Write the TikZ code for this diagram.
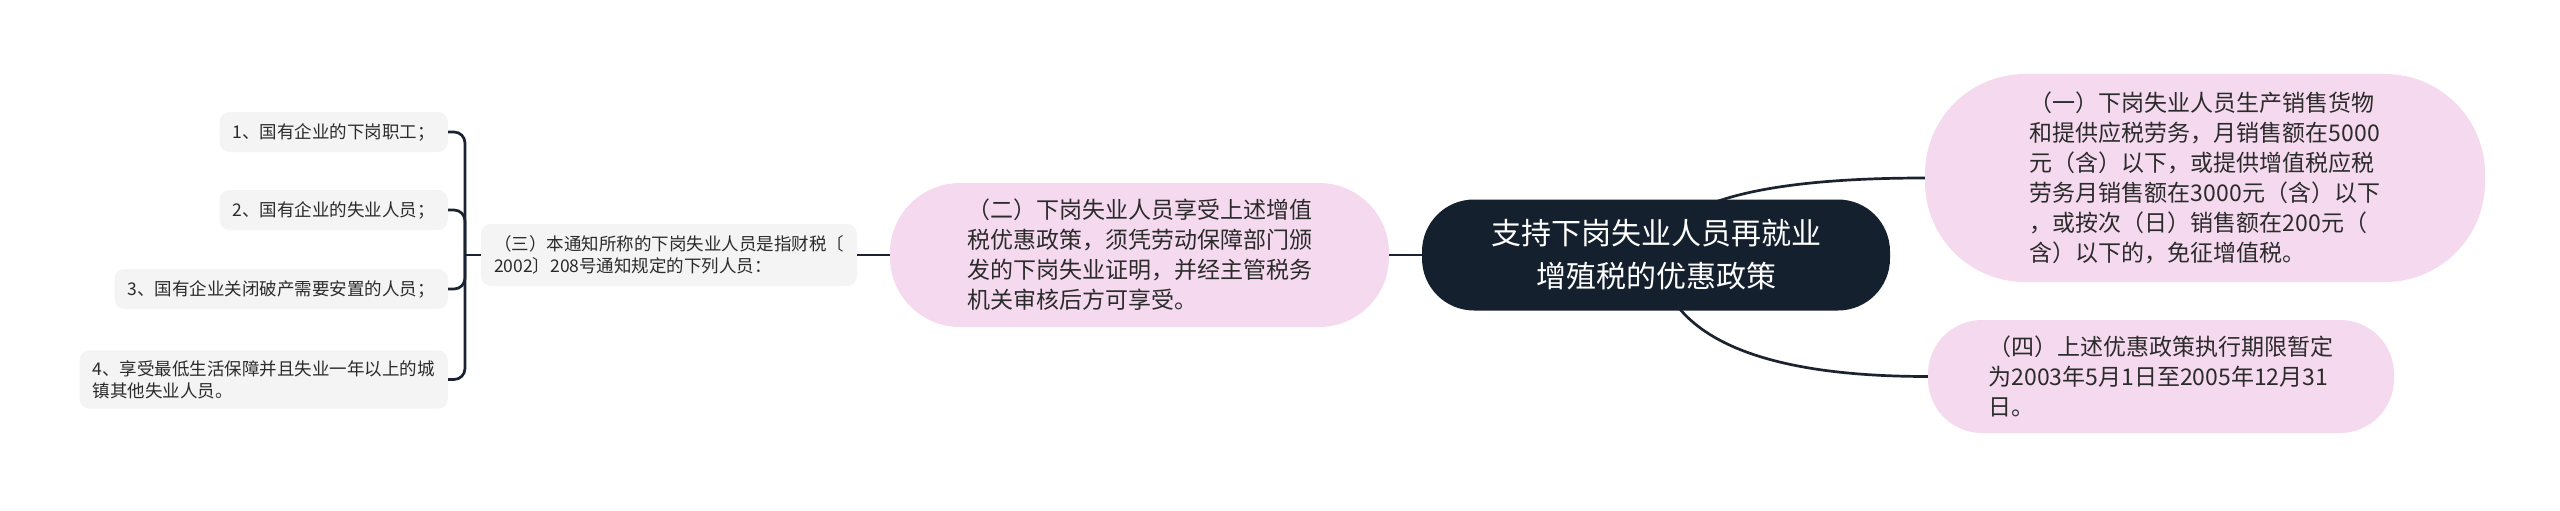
\documentclass[tikz,border=0pt]{standalone}
\usepackage{fontspec}
\newfontfamily\cjk{Noto Sans CJK SC}
\usetikzlibrary{backgrounds}
\definecolor{rootnavy}{HTML}{15202E}
\definecolor{bubblepink}{HTML}{F5DAEF}
\definecolor{leafgrey}{HTML}{F4F4F4}
\definecolor{inkgrey}{HTML}{2B2B2B}
\definecolor{linkdark}{HTML}{1C2330}
\tikzset{
  rootbox/.style={fill=rootnavy, text=white, rounded corners=52pt, minimum width=468pt, minimum height=111pt, align=center, font=\cjk\fontsize{30}{43}\selectfont},
  pinkbox/.style={fill=bubblepink, text=inkgrey, align=left, font=\cjk\fontsize{23}{30}\selectfont},
  greybox/.style={fill=leafgrey, text=inkgrey, rounded corners=10pt, align=left, inner xsep=13pt, inner ysep=10pt, minimum height=40pt, anchor=east, font=\cjk\fontsize{17.5}{22}\selectfont},
  link/.style={draw=linkdark, line width=2.7pt},
}
\begin{document}
\begin{tikzpicture}[x=1pt,y=-1pt]
\useasboundingbox (0,0) rectangle (2560,511);
\node [rootbox] (root) at (1656,255) {支持下岗失业人员再就业\\增殖税的优惠政策};
\node [pinkbox, rounded corners=100pt, minimum width=560pt, minimum height=208pt] (first) at (2205,178)
  {（一）下岗失业人员生产销售货物\\和提供应税劳务，月销售额在5000\\元（含）以下，或提供增值税应税\\劳务月销售额在3000元（含）以下\\，或按次（日）销售额在200元（\\含）以下的，免征增值税。};
\node [pinkbox, rounded corners=54pt, minimum width=466pt, minimum height=113pt] (fourth) at (2161,376.5)
  {（四）上述优惠政策执行期限暂定\\为2003年5月1日至2005年12月31\\日。};
\node [pinkbox, rounded corners=70pt, minimum width=499pt, minimum height=144pt] (second) at (1139.5,255)
  {（二）下岗失业人员享受上述增值\\税优惠政策，须凭劳动保障部门颁\\发的下岗失业证明，并经主管税务\\机关审核后方可享受。};
\node [greybox, anchor=center, minimum width=372pt, minimum height=62pt] (third) at (669,255)
  {（三）本通知所称的下岗失业人员是指财税〔\\2002〕208号通知规定的下列人员：};
\node [greybox] (leafa) at (448,132) {1、国有企业的下岗职工；};
\node [greybox] (leafb) at (448,210) {2、国有企业的失业人员；};
\node [greybox] (leafc) at (448,289) {3、国有企业关闭破产需要安置的人员；};
\node [greybox] (leafd) at (448,379.5) {4、享受最低生活保障并且失业一年以上的城\\镇其他失业人员。};
\coordinate (hub) at (465,255);
\begin{pgfonlayer}{background}
\fill [white] (0,0) rectangle (2560,511);
\draw [link] (root.center) .. controls +(9,-51) and +(-170,0) .. (first.west);
\draw [link] (root.center) .. controls +(11,81) and +(-171,0) .. (fourth.west);
\end{pgfonlayer}
\draw [link] (root) -- (second);
\draw [link] (second) -- (third);
\draw [link] (third) -- (hub);
\foreach \leaf in {leafa,leafb,leafc,leafd}
  \draw [link, rounded corners=11pt] (hub) |- (\leaf.east);
\end{tikzpicture}
\end{document}
